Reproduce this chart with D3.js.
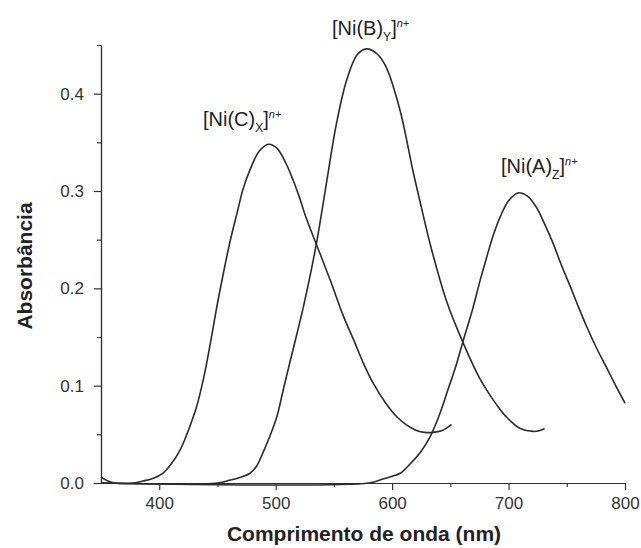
<!DOCTYPE html>
<html>
<head>
<meta charset="utf-8">
<script src="https://cdn.jsdelivr.net/npm/d3@7"></script>
<style>
  body { margin: 0; background: #fff; }
  svg { display: block; font-family: "Liberation Sans", Arial, sans-serif; }
  .axis path, .axis line { stroke: #333; stroke-width: 1.2; }
  .axis text { font-size: 17px; fill: #333; }
</style>
</head>
<body>
<div id="chart"></div>
<script>
// wavelength (nm), absorbance
const complexC = [
  [350, 0.006], [356, 0.002], [362, 0], [378, 0], [386, 0.002], [395, 0.005],
  [403, 0.010], [410, 0.019], [418, 0.034], [425, 0.054], [432, 0.078],
  [438, 0.107], [444, 0.144], [449, 0.178], [455, 0.215], [461, 0.249],
  [467, 0.278], [472, 0.302], [478, 0.322], [486, 0.341], [494, 0.348],
  [501, 0.344], [509, 0.328], [515, 0.311], [520, 0.295], [526, 0.273],
  [535, 0.245], [547, 0.208], [558, 0.172], [567, 0.147], [575, 0.124],
  [584, 0.102], [594, 0.083], [604, 0.068], [612, 0.060], [621, 0.054],
  [628, 0.052], [635, 0.052], [643, 0.054], [651, 0.060]
];
const complexB = [
  [350, 0], [450, 0], [461, 0.003], [470, 0.006], [478, 0.010], [484, 0.018],
  [489, 0.031], [495, 0.048], [501, 0.068], [506, 0.093], [512, 0.123],
  [518, 0.152], [524, 0.182], [535, 0.246], [544, 0.311], [552, 0.368],
  [561, 0.414], [570, 0.440], [578, 0.446], [587, 0.441], [595, 0.427],
  [607, 0.382], [618, 0.320], [625, 0.284], [633, 0.244], [647, 0.186],
  [661, 0.144], [675, 0.108], [681, 0.096], [690, 0.080], [698, 0.068],
  [710, 0.056], [721, 0.053], [727, 0.054], [731, 0.056]
];
const complexA = [
  [350, 0], [580, 0], [592, 0.004], [600, 0.007], [607, 0.010], [615, 0.019],
  [624, 0.031], [632, 0.046], [640, 0.068], [648, 0.096], [655, 0.121],
  [661, 0.146], [669, 0.178], [676, 0.210], [681, 0.231], [687, 0.255],
  [693, 0.274], [700, 0.290], [708, 0.298], [716, 0.295], [724, 0.283],
  [731, 0.266], [738, 0.247], [745, 0.225], [753, 0.202], [760, 0.181],
  [767, 0.161], [775, 0.140], [784, 0.119], [792, 0.100], [800, 0.082]
];
const xTicks = [400, 500, 600, 700, 800];
const xMinorTicks = [450, 550, 650, 750];
const yTicks = [0, 0.1, 0.2, 0.3, 0.4];
const yMinorTicks = [0.05, 0.15, 0.25, 0.35, 0.45];

const W = 641, H = 548;
const svg = d3.select("#chart").append("svg").attr("width", W).attr("height", H);

const x = d3.scaleLinear().domain([350, 800]).range([101, 625]);
const y = d3.scaleLinear().domain([0, 0.45]).range([483, 45]);

// minor ticks first, then major axes on top
svg.append("g").attr("class", "axis")
  .attr("transform", `translate(0,${y(0)})`)
  .call(d3.axisBottom(x).tickValues(xMinorTicks).tickSize(4).tickSizeOuter(0).tickFormat(""));
svg.append("g").attr("class", "axis")
  .attr("transform", `translate(${x(350)},0)`)
  .call(d3.axisLeft(y).tickValues(yMinorTicks).tickSize(4).tickSizeOuter(0).tickFormat(""));

svg.append("g").attr("class", "axis")
  .attr("transform", `translate(0,${y(0)})`)
  .call(d3.axisBottom(x).tickValues(xTicks).tickSize(7).tickSizeOuter(0).tickPadding(7).tickFormat(d3.format("d")));
svg.append("g").attr("class", "axis")
  .attr("transform", `translate(${x(350)},0)`)
  .call(d3.axisLeft(y).tickValues(yTicks).tickSize(7).tickSizeOuter(0).tickPadding(10).tickFormat(d3.format(".1f")));

const line = d3.line()
  .x(d => x(d[0]))
  .y(d => Math.min(y(0), y(d[1])))
  .curve(d3.curveCatmullRom.alpha(0.5));

[complexC, complexB, complexA].forEach(series => {
  svg.append("path")
    .datum(series)
    .attr("fill", "none")
    .attr("stroke", "#2b2b2b")
    .attr("stroke-width", 1.6)
    .attr("d", line);
});

// complex labels: [Ni(L)_s]^n+
const labels = [
  { lig: "C", sub: "X", px: 203, py: 126 },
  { lig: "B", sub: "Y", px: 332, py: 35 },
  { lig: "A", sub: "Z", px: 501, py: 173 }
];
labels.forEach(l => {
  const t = svg.append("text")
    .attr("x", l.px).attr("y", l.py)
    .attr("fill", "#222")
    .style("font-size", "20px");
  t.append("tspan").text(`[Ni(${l.lig})`);
  t.append("tspan").attr("dy", 6).style("font-size", "12px").text(l.sub);
  t.append("tspan").attr("dy", -6).text("]");
  t.append("tspan").attr("dy", -8).style("font-size", "11px").style("font-style", "italic").text("n+");
});

svg.append("text")
  .attr("x", 364).attr("y", 541)
  .attr("text-anchor", "middle")
  .attr("fill", "#222")
  .style("font-size", "21px").style("font-weight", "bold")
  .text("Comprimento de onda (nm)");

svg.append("text")
  .attr("transform", "translate(32,266) rotate(-90)")
  .attr("text-anchor", "middle")
  .attr("fill", "#222")
  .style("font-size", "21px").style("font-weight", "bold")
  .text("Absorbância");
</script>
</body>
</html>
